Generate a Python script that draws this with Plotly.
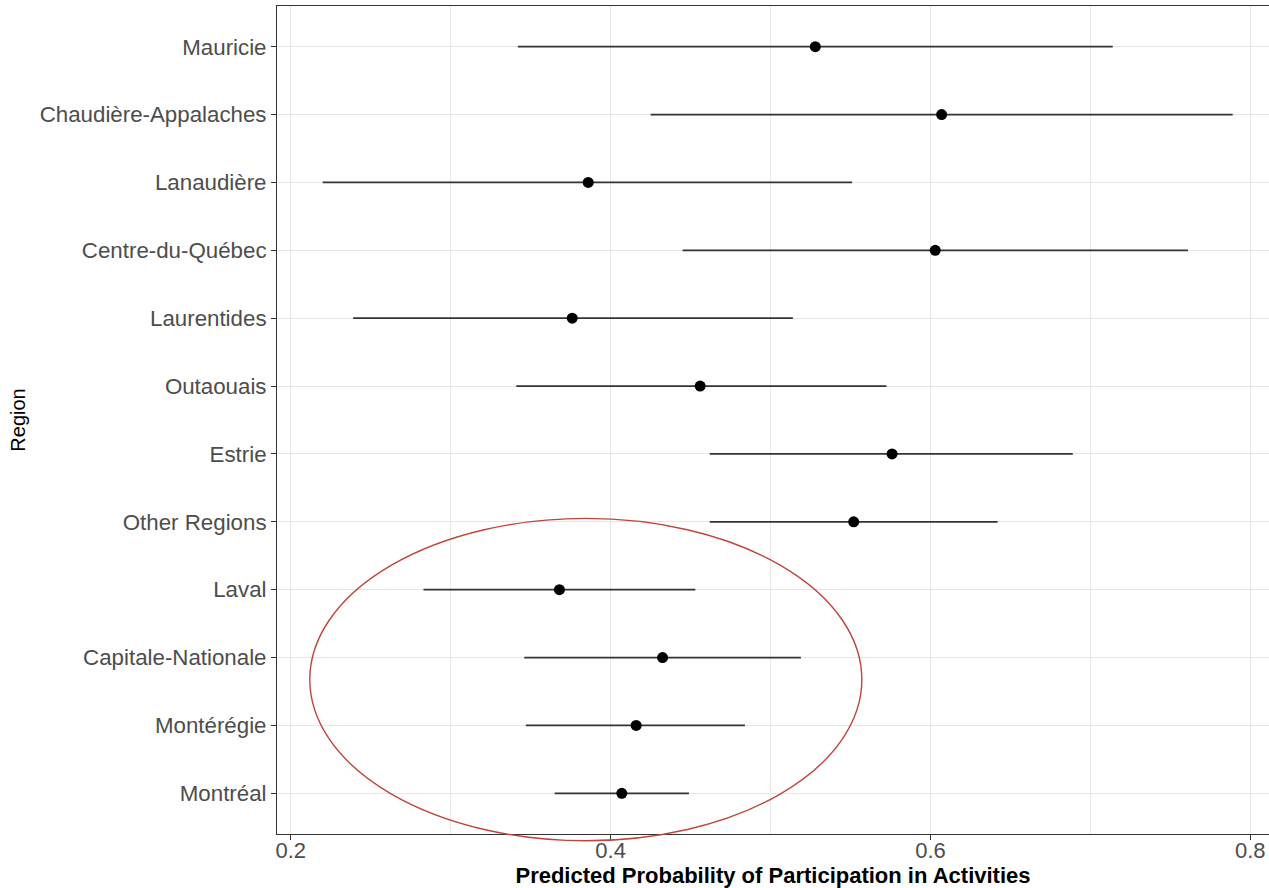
import plotly.graph_objects as go

# Data (bottom to top)
regions = ["Montréal", "Montérégie", "Capitale-Nationale", "Laval", "Other Regions",
           "Estrie", "Outaouais", "Laurentides", "Centre-du-Québec", "Lanaudière",
           "Chaudière-Appalaches", "Mauricie"]
predicted = [0.407, 0.416, 0.4325, 0.368, 0.552, 0.576, 0.456, 0.376, 0.603, 0.386, 0.607, 0.528]
lower = [0.365, 0.347, 0.346, 0.283, 0.462, 0.462, 0.341, 0.239, 0.445, 0.220, 0.425, 0.342]
upper = [0.449, 0.484, 0.519, 0.453, 0.642, 0.689, 0.5725, 0.514, 0.761, 0.551, 0.789, 0.714]

x_ticks = [0.2, 0.4, 0.6, 0.8]
x_tick_labels = ["0.2", "0.4", "0.6", "0.8"]

# Highlight ellipse (data coordinates): x from/to, y (category index) from/to
ellipse_x = [0.2119, 0.5571]
ellipse_y = [-0.70, 4.05]

X_RANGE = [0.1914, 0.8117]
Y_RANGE = [-0.6, len(regions) - 1 + 0.6]

W, H = 1269, 888
ML, MR, MT, MB = 277, 0, 6, 52

fig = go.Figure()
fig.add_trace(go.Scatter(
    x=predicted, y=regions, mode="markers",
    marker=dict(color="black", size=11),
    error_x=dict(type="data", symmetric=False,
                 array=[u - p for u, p in zip(upper, predicted)],
                 arrayminus=[p - l for p, l in zip(predicted, lower)],
                 color="#333333", thickness=1.7, width=0),
    showlegend=False, cliponaxis=False,
))

def px(v):
    return (v - X_RANGE[0]) / (X_RANGE[1] - X_RANGE[0])

def py(v):
    return (v - Y_RANGE[0]) / (Y_RANGE[1] - Y_RANGE[0])

fig.add_shape(type="circle", xref="paper", yref="paper",
              x0=px(ellipse_x[0]), x1=px(ellipse_x[1]),
              y0=py(ellipse_y[0]), y1=py(ellipse_y[1]),
              line=dict(color="#c0443c", width=1.4), layer="above")

font_family = "Liberation Sans, Arial, sans-serif"
fig.update_layout(
    width=W, height=H, autosize=False,
    margin=dict(l=ML, r=MR, t=MT, b=MB, pad=0),
    paper_bgcolor="white", plot_bgcolor="white",
    font=dict(family=font_family, size=22, color="#4d4d4d"),
    xaxis=dict(
        range=X_RANGE, tickvals=x_ticks, ticktext=x_tick_labels,
        showgrid=True, gridcolor="#e6e6e6", gridwidth=1.1,
        minor=dict(dtick=0.1, tick0=0.3, showgrid=True, gridcolor="#ebebeb", gridwidth=0.6),
        showline=True, linecolor="#333333", linewidth=1, mirror=True,
        ticks="outside", ticklen=5, tickcolor="#333333", tickwidth=1,
        tickfont=dict(size=22, color="#4d4d4d"),
        ticklabelstandoff=-8,
        zeroline=False,
        title=dict(text="<b>Predicted Probability of Participation in Activities</b>",
                   font=dict(size=22, color="black"), standoff=9),
    ),
    yaxis=dict(
        type="category", categoryorder="array", categoryarray=regions,
        range=Y_RANGE,
        showgrid=True, gridcolor="#e6e6e6", gridwidth=1.1,
        showline=True, linecolor="#333333", linewidth=1, mirror=False,
        ticks="outside", ticklen=5, tickcolor="#333333", tickwidth=1,
        tickfont=dict(size=22.3, color="#4d4d4d"),
        zeroline=False,
        title=dict(text="Region", font=dict(size=20, color="black"), standoff=8),
    ),
)

fig.write_html("out.html", config={"displayModeBar": False},
               post_script="document.body.style.margin='0px';")
